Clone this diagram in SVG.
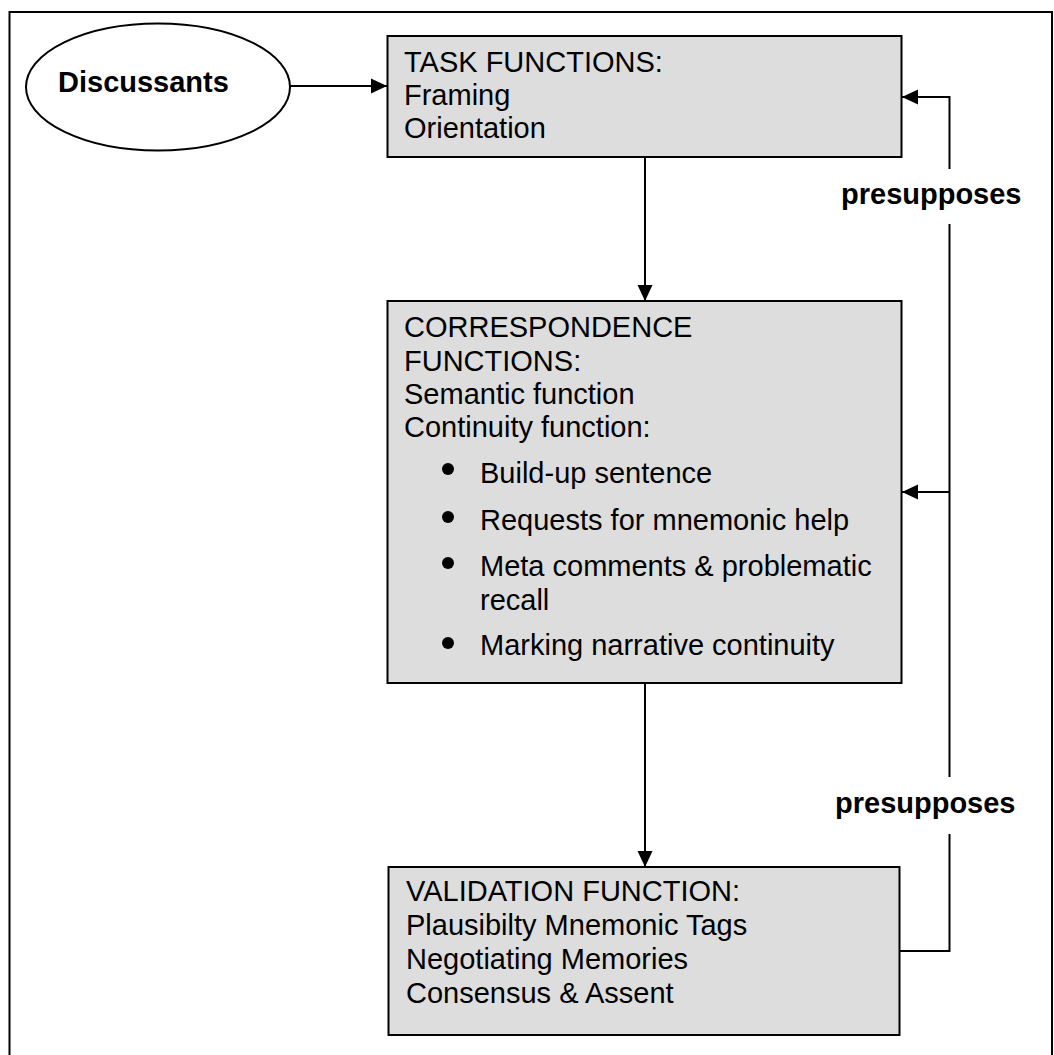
<svg xmlns="http://www.w3.org/2000/svg" width="1054" height="1055" viewBox="0 0 1054 1055">
  <style>
    .box { fill: #dddddd; stroke: #000; stroke-width: 2; }
    .line { fill: none; stroke: #000; stroke-width: 2; }
    .txt { font-family: "Liberation Sans", Arial, sans-serif; font-size: 29px; fill: #000; }
    .bold { font-weight: bold; }
  </style>
  <defs>
    <marker id="arrow" markerUnits="userSpaceOnUse" markerWidth="16" markerHeight="16" viewBox="0 0 16 16" refX="16" refY="8" orient="auto">
      <path d="M0,0.5 L16,8 L0,15.5 Z" fill="#000"/>
    </marker>
  </defs>

  <rect width="1054" height="1055" fill="#fff"/>

  <!-- outer frame, open at the bottom -->
  <path class="line" d="M9.5,1056 V12 H1052 V1056"/>

  <g id="connectors">
    <line class="line" x1="290" y1="86" x2="387" y2="86" marker-end="url(#arrow)"/>
    <line class="line" x1="645" y1="157" x2="645" y2="301" marker-end="url(#arrow)"/>
    <line class="line" x1="645" y1="683" x2="645" y2="867" marker-end="url(#arrow)"/>
    <!-- feedback loop on the right -->
    <path class="line" d="M900,951 H949.5 V834"/>
    <path class="line" d="M949.5,777 V224"/>
    <path class="line" d="M949.5,169 V97 H902" marker-end="url(#arrow)"/>
    <line class="line" x1="949.5" y1="492" x2="902" y2="492" marker-end="url(#arrow)"/>
    <text class="txt bold" x="841" y="204">presupposes</text>
    <text class="txt bold" x="835" y="813">presupposes</text>
  </g>

  <g id="discussants">
    <ellipse cx="158" cy="87" rx="132" ry="63.5" fill="#fff" stroke="#000" stroke-width="2"/>
    <text class="txt bold" x="58" y="92">Discussants</text>
  </g>

  <g id="task-functions">
    <rect class="box" x="387.5" y="36" width="514" height="121"/>
    <text class="txt" x="404" y="72">TASK FUNCTIONS:</text>
    <text class="txt" x="404" y="105">Framing</text>
    <text class="txt" x="404" y="138">Orientation</text>
  </g>

  <g id="correspondence-functions">
    <rect class="box" x="387.5" y="301" width="514" height="382"/>
    <text class="txt" x="404" y="337">CORRESPONDENCE</text>
    <text class="txt" x="404" y="371">FUNCTIONS:</text>
    <text class="txt" x="404" y="404">Semantic function</text>
    <text class="txt" x="404" y="437">Continuity function:</text>
    <circle cx="448" cy="469" r="6"/>
    <circle cx="448" cy="517" r="6"/>
    <circle cx="448" cy="563" r="6"/>
    <circle cx="448" cy="643" r="6"/>
    <text class="txt" x="480" y="483">Build-up sentence</text>
    <text class="txt" x="480" y="530">Requests for mnemonic help</text>
    <text class="txt" x="480" y="576">Meta comments &amp; problematic</text>
    <text class="txt" x="480" y="610">recall</text>
    <text class="txt" x="480" y="655">Marking narrative continuity</text>
  </g>

  <g id="validation-function">
    <rect class="box" x="388.5" y="867" width="511" height="168"/>
    <text class="txt" x="406" y="901">VALIDATION FUNCTION:</text>
    <text class="txt" x="406" y="935">Plausibilty Mnemonic Tags</text>
    <text class="txt" x="406" y="969">Negotiating Memories</text>
    <text class="txt" x="406" y="1003">Consensus &amp; Assent</text>
  </g>
</svg>
